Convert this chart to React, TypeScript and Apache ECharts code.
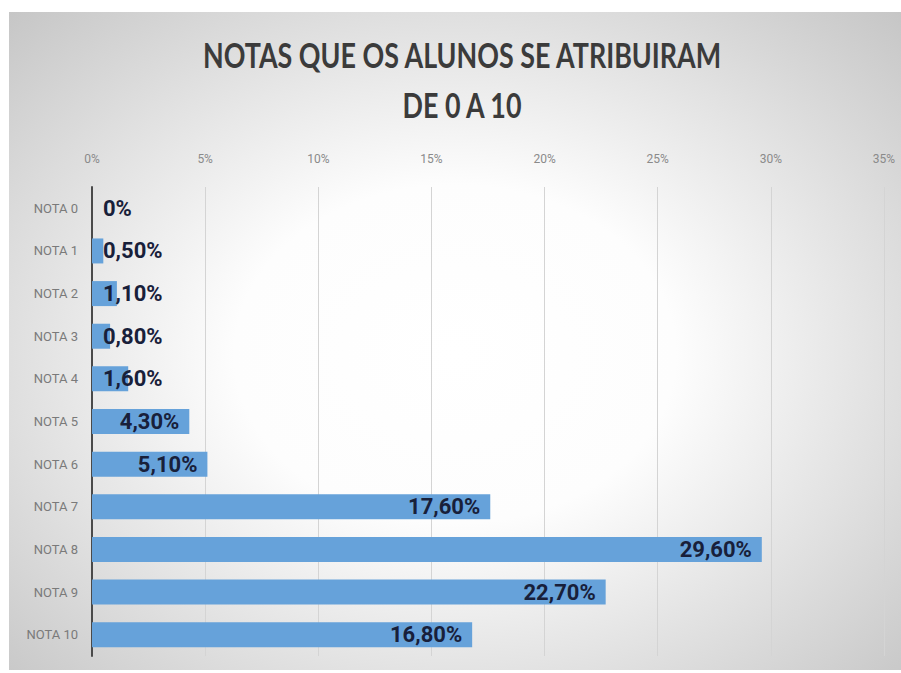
import React, { useEffect, useRef } from "react";
import * as echarts from "echarts";

const categories = ["NOTA 0", "NOTA 1", "NOTA 2", "NOTA 3", "NOTA 4", "NOTA 5", "NOTA 6", "NOTA 7", "NOTA 8", "NOTA 9", "NOTA 10"];
const values = [0, 0.5, 1.1, 0.8, 1.6, 4.3, 5.1, 17.6, 29.6, 22.7, 16.8];
const titleLines = ["NOTAS QUE OS ALUNOS SE ATRIBUIRAM", "DE 0 A 10"];
const axisMax = 35;
const axisStep = 5;

const TITLE_FONT = "Lato, 'Open Sans', sans-serif";
const FONT = "Roboto, 'Open Sans', sans-serif";

function fmt(v: number): string {
  if (v === 0) return "0%";
  return v.toFixed(2).replace(".", ",") + "%";
}

function fitScale(text: string, font: string, target: number): number {
  try {
    const t = new (echarts.graphic as any).Text({ style: { text, font } });
    const w = t.getBoundingRect().width;
    return w > 0 ? target / w : 0.8;
  } catch (e) {
    return 0.8;
  }
}

export default function App() {
  const ref = useRef<HTMLDivElement>(null);
  useEffect(() => {
    if (!ref.current) return;
    const chart = echarts.init(ref.current, undefined, { renderer: "svg" });
    const tFont = `bold 35px ${TITLE_FONT}`;
    const s = fitScale(titleLines[0], tFont, 520);
    chart.setOption({
      animation: false,
      graphic: [
        {
          type: "text",
          x: 453,
          y: 43,
          scaleX: s,
          style: {
            text: titleLines[0],
            fill: "#3b3b3b",
            font: tFont,
            textAlign: "center",
            textVerticalAlign: "middle",
          },
        },
        {
          type: "text",
          x: 453,
          y: 93,
          scaleX: s,
          style: {
            text: titleLines[1],
            fill: "#3b3b3b",
            font: tFont,
            textAlign: "center",
            textVerticalAlign: "middle",
          },
        },
      ],
      grid: { left: 83, right: 17, top: 175, bottom: 14, containLabel: false },
      xAxis: {
        type: "value",
        position: "top",
        min: 0,
        max: axisMax,
        interval: axisStep,
        axisLine: { show: false },
        axisTick: { show: false },
        axisLabel: {
          formatter: (v: number) => `${v}%`,
          color: "#8a8a8a",
          fontSize: 12,
          fontFamily: FONT,
          margin: 22,
        },
        splitLine: { show: true, lineStyle: { color: "#d4d4d4", width: 1 } },
      },
      yAxis: {
        type: "category",
        inverse: true,
        data: categories,
        axisLine: { show: true, lineStyle: { color: "#4a4a4a", width: 2 } },
        axisTick: { show: false },
        axisLabel: {
          color: "#7a7a7a",
          fontSize: 13,
          fontFamily: FONT,
          margin: 14,
        },
      },
      series: [
        {
          type: "bar",
          data: values.map((v) => ({
            value: v,
            label:
              v < 2
                ? { position: "insideLeft", distance: 11 }
                : { position: "insideRight", distance: 10 },
          })),
          barWidth: 25,
          itemStyle: { color: "#66a2da" },
          label: {
            show: true,
            formatter: (p: any) => fmt(p.value),
            color: "#18203a",
            fontSize: 22,
            fontWeight: "bold",
            fontFamily: FONT,
          },
        },
      ],
    });
    return () => chart.dispose();
  }, []);
  return (
    <div
      ref={ref}
      style={{
        position: "absolute",
        left: 9,
        top: 12,
        width: 892,
        height: 658,
        background:
          "radial-gradient(ellipse farthest-corner at 50% 52%, #ffffff 0%, #fdfdfd 35%, #c6c6c6 100%)",
      }}
    />
  );
}
